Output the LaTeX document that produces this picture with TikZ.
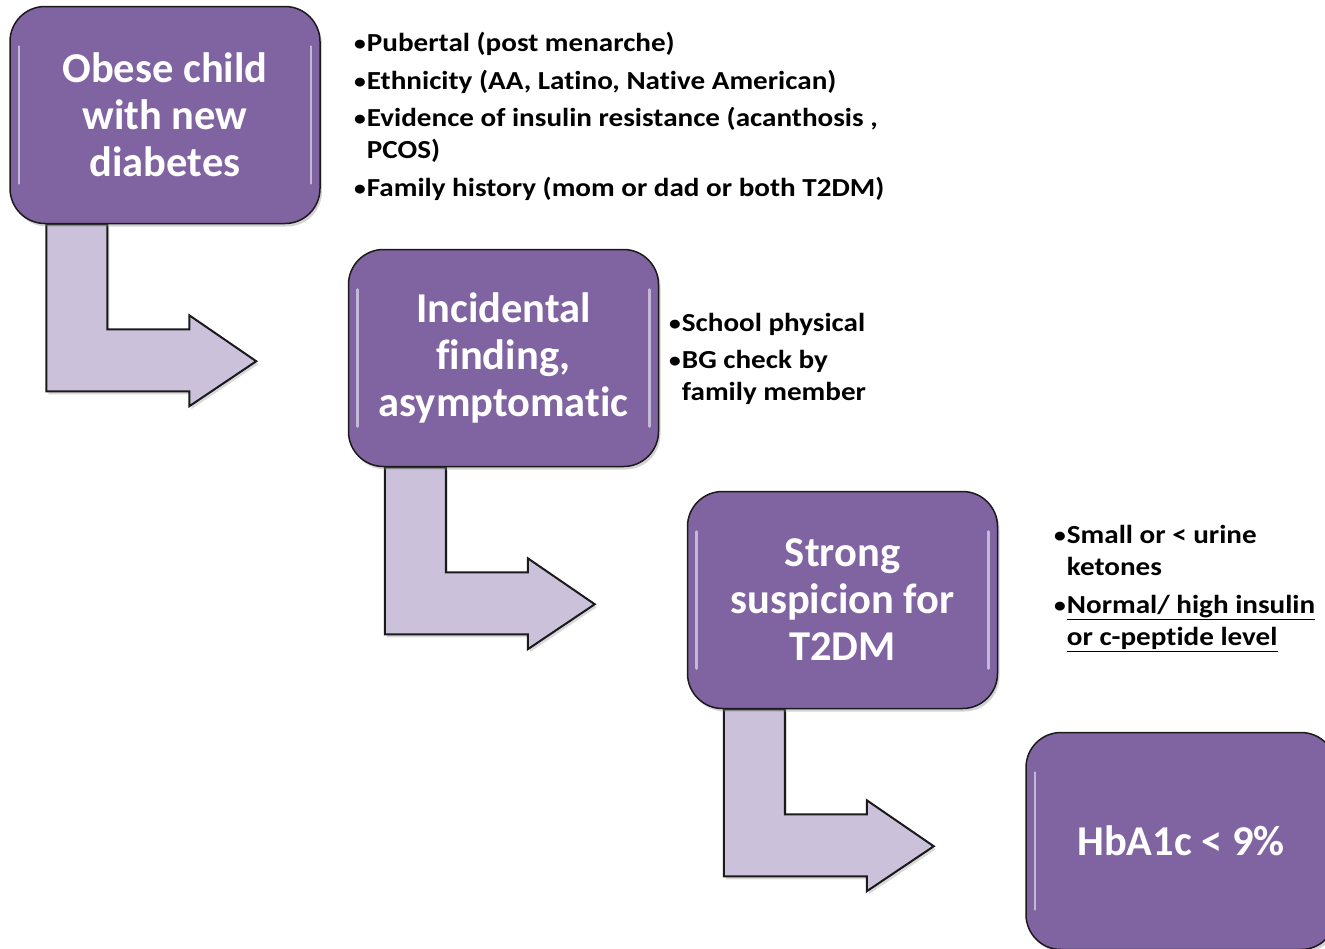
\documentclass[tikz,border=0pt]{standalone}
\usepackage{fontspec}
\setmainfont{Carlito}[Ligatures={NoCommon,NoContextual}]
\newfontfamily\bulletfont{Carlito}[FakeStretch=1.12,Ligatures={NoCommon,NoContextual}]
\usetikzlibrary{calc,shadows,backgrounds}
\definecolor{boxpurple}{HTML}{8064A2}
\definecolor{arrowlav}{HTML}{CCC1DA}
\definecolor{edgecol}{HTML}{1A1A1A}
\newcommand{\bul}{\raisebox{1.5pt}{\fontsize{21}{21}\selectfont\bfseries •}}
\tikzset{
  stepbox/.style={draw=edgecol, line width=1.5pt, fill=boxpurple, rounded corners=35pt,
    minimum width=310pt, minimum height=217pt, inner sep=0pt, align=center, text=white,
    font=\fontsize{42.5}{47}\selectfont\bfseries,
    drop shadow={shadow xshift=2pt,shadow yshift=-3pt,opacity=0.35},
    path picture={
      \draw[white,opacity=0.55,line width=2.5pt,line cap=round]
        ($(path picture bounding box.north west)+(9,40)$) -- ($(path picture bounding box.south west)+(9,-40)$);
      \draw[white,opacity=0.55,line width=2.5pt,line cap=round]
        ($(path picture bounding box.north east)+(-9,40)$) -- ($(path picture bounding box.south east)+(-9,-40)$);
    }},
  arrowshape/.style={draw=edgecol, line width=2pt, fill=arrowlav, line join=miter,
    drop shadow={shadow xshift=2pt,shadow yshift=-3pt,opacity=0.3}},
  bentarrow/.pic={
    \draw[arrowshape] (37,0) -- (37,167) -- (180,167) -- (180,182) -- (247,137)
      -- (180,91) -- (180,105) -- (98,105) -- (98,0) -- cycle;
  },
  bullets/.style={anchor=north west, align=left, inner sep=0pt,
    font=\bulletfont\fontsize{26}{32}\selectfont\bfseries}
}
\begin{document}
\begin{tikzpicture}[x=1pt,y=-1pt]
\useasboundingbox (0,0) rectangle (1325,948);

\node[stepbox] (o1) at (165,115) {Obese child\\with new\\diabetes};
\node[stepbox] (o2) at (503.5,358) {Incidental\\finding,\\asymptomatic};
\node[stepbox] (o3) at (842.5,600) {Strong\\suspicion for\\T2DM};
\node[stepbox] (o4) at (1181,841) {HbA1c < 9\%};

\begin{scope}[on background layer]
  \pic at (o1.south west) {bentarrow};
  \pic at (o2.south west) {bentarrow};
  \pic at (o3.south west) {bentarrow};
\end{scope}

\node[bullets] (l1) at (354,29) {\begin{tabular}{@{}l@{\hspace{1pt}}l@{}}
\bul&Pubertal (post menarche)\\[6pt]
\bul&Ethnicity (AA, Latino, Native American)\\[5pt]
\bul&Evidence of insulin resistance (acanthosis ,\\
 &PCOS)\\[6pt]
\bul&Family history (mom or dad or both T2DM)
\end{tabular}};

\node[bullets] (l2) at (669,309) {\begin{tabular}{@{}l@{\hspace{1pt}}l@{}}
\bul&School physical\\[5pt]
\bul&BG check by\\
 &family member
\end{tabular}};

\node[bullets] (l3) at (1054,521) {\begin{tabular}{@{}l@{\hspace{1pt}}l@{}}
\bul&Small or < urine\\
 &ketones\\[6pt]
\bul&\underline{Normal/ high insulin}\\
 &\underline{or c-peptide level}
\end{tabular}};
\end{tikzpicture}
\end{document}
